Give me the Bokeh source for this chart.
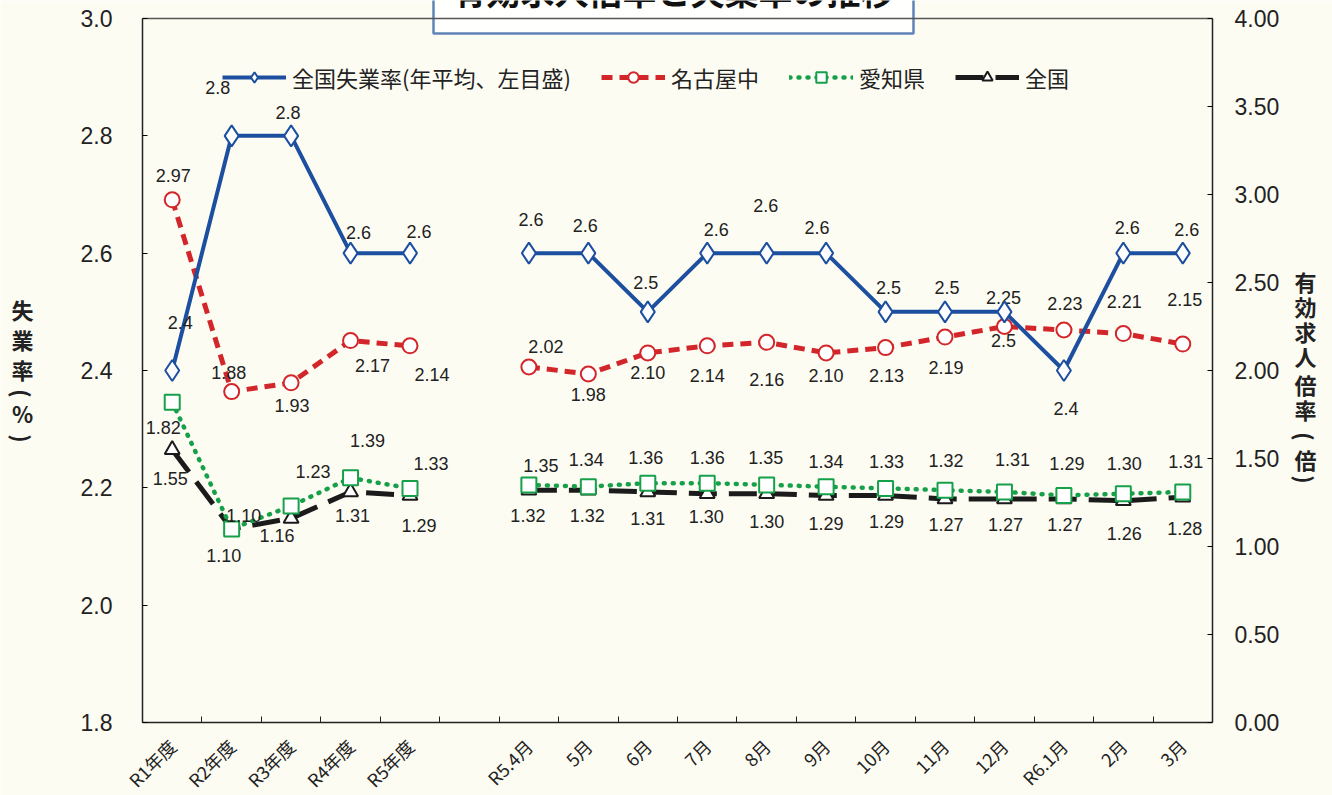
import math
from bokeh.plotting import figure
from bokeh.models import (Range1d, LinearAxis, FixedTicker, Legend,
                          LegendItem, ColumnDataSource, NumeralTickFormatter)
from bokeh.core.properties import value
from bokeh.embed import file_html
from bokeh.resources import INLINE

nan = float("nan")

# ---------------- data ----------------
categories = ["R1年度", "R2年度", "R3年度", "R4年度", "R5年度", "",
              "R5.4月", "5月", "6月", "7月", "8月", "9月", "10月", "11月",
              "12月", "R6.1月", "2月", "3月"]
unemp_national = [2.4, 2.8, 2.8, 2.6, 2.6, nan,
                  2.6, 2.6, 2.5, 2.6, 2.6, 2.6, 2.5, 2.5, 2.5, 2.4, 2.6, 2.6]
ratio_nagoya = [2.97, 1.88, 1.93, 2.17, 2.14, nan,
                2.02, 1.98, 2.10, 2.14, 2.16, 2.10, 2.13, 2.19, 2.25, 2.23, 2.21, 2.15]
ratio_aichi = [1.82, 1.10, 1.23, 1.39, 1.33, nan,
               1.35, 1.34, 1.36, 1.36, 1.35, 1.34, 1.33, 1.32, 1.31, 1.29, 1.30, 1.31]
ratio_national = [1.55, 1.10, 1.16, 1.31, 1.29, nan,
                  1.32, 1.32, 1.31, 1.30, 1.30, 1.29, 1.29, 1.27, 1.27, 1.27, 1.26, 1.28]

left_min, left_max = 1.8, 3.0
right_min, right_max = 0.0, 4.0
left_ticks = [1.8, 2.0, 2.2, 2.4, 2.6, 2.8, 3.0]
right_ticks = [0.0, 0.5, 1.0, 1.5, 2.0, 2.5, 3.0, 3.5, 4.0]

series_names = ["全国失業率(年平均、左目盛)", "名古屋中", "愛知県", "全国"]
title_text = "有効求人倍率と失業率の推移"
left_title_chars = ["失", "業", "率", "(", "%", ")"]
right_title_chars = ["有", "効", "求", "人", "倍", "率", "(", "倍", ")"]

# ---------------- layout (pixels) ----------------
W, H = 1332, 795
PX_L, PX_R, PY_T, PY_B = 142, 1212, 18, 722
left_title_px = 22
left_title_py = [308, 338, 368, 393, 412, 438]
right_title_px = 1305
right_title_py = [280, 305, 330, 355, 383, 408, 436, 458, 479]
title_px, title_py = 673, 33

# label offsets (screen px) for the value labels
off_unemp = [(8, -48), (-14, -48), (-3, -23), (8, -21), (9, -22), None,
             (2, -34), (-3, -28), (-2, -29), (9, -24), (-1, -48), (-9, -26),
             (3, -24), (2, -24), (-1, 29), (2, 38), (4, -26), (4, -24)]
off_nagoya = [(1, -24), (-3, -19), (1, 23), (22, 25), (22, 29), None,
              (17, -20), (0, 20), (0, 20), (0, 30), (0, 37), (0, 23),
              (1, 28), (1, 30), (-1, -29), (1, -27), (1, -32), (2, -45)]
off_aichi = [(-9, 25), (12, -13), (22, -35), (17, -37), (21, -25), None,
             (12, -19), (-2, -27), (-2, -26), (0, -26), (-1, -27), (0, -25),
             (1, -27), (1, -30), (8, -32), (3, -32), (1, -30), (3, -30)]
off_national = [(-2, 29), (-8, 27), (-14, 17), (2, 24), (9, 30), None,
                (-1, 25), (-1, 25), (0, 27), (-1, 23), (0, 28), (0, 28),
                (1, 26), (1, 26), (1, 26), (1, 26), (1, 33), (2, 31)]

bg = "#fdfcf3"
c_blue = "#1c4f9f"
c_red = "#d3262a"
c_green = "#17a04a"
c_black = "#1b1b1b"
c_axis = "#222222"
num_font = "Liberation Sans"
jp_font = "Noto Sans CJK JP"

n = len(categories)
xs = [i + 0.5 for i in range(n)]

# ranges chosen so that the frame fills the whole canvas
sx = (PX_R - PX_L) / n
sy = (PY_B - PY_T) / (left_max - left_min)
sr = (PY_B - PY_T) / (right_max - right_min)
x_rng = Range1d(-PX_L / sx, n + (W - PX_R) / sx)
y_rng = Range1d(left_min - (H - PY_B) / sy, left_max + PY_T / sy)
r_rng = Range1d(right_min - (H - PY_B) / sr, right_max + PY_T / sr)


def px_x(px):
    return (px - PX_L) / sx


def py_y(py):
    return left_min + (PY_B - py) / sy


p = figure(width=W, height=H, x_range=x_rng, y_range=y_rng,
           output_backend="svg", toolbar_location=None, min_border=0,
           background_fill_color=bg, border_fill_color=bg,
           outline_line_color=None)
p.grid.visible = False
p.extra_y_ranges = {"r": r_rng}

# x axis at bottom of the data area: labels at centres, ticks at boundaries
xa = p.xaxis[0]
xa.fixed_location = left_min
xa.bounds = (0, n)
xa.ticker = FixedTicker(ticks=xs, minor_ticks=list(range(1, n)))
xa.major_label_overrides = {x: c for x, c in zip(xs, categories)}
xa.major_label_orientation = math.pi / 4
xa.major_tick_line_color = None
xa.minor_tick_in = 6
xa.minor_tick_out = 0
xa.minor_tick_line_color = c_axis
xa.axis_line_color = c_axis
xa.axis_line_width = 1.5
xa.major_label_text_font = jp_font
xa.major_label_text_font_size = "18px"
xa.major_label_text_color = c_axis
xa.major_label_standoff = 14

ya = p.yaxis[0]
ya.fixed_location = 0
ya.bounds = (left_min, left_max)
ya.ticker = FixedTicker(ticks=left_ticks)
ya.formatter = NumeralTickFormatter(format="0.0")
ya.major_tick_in = 5
ya.major_tick_out = 0
ya.minor_tick_line_color = None
ya.axis_line_color = c_axis
ya.axis_line_width = 1.5
ya.major_label_text_font = num_font
ya.major_label_text_font_size = "23px"
ya.major_label_text_color = c_axis
ya.major_label_standoff = 30

ra = LinearAxis(y_range_name="r", fixed_location=n, bounds=(right_min, right_max),
                ticker=FixedTicker(ticks=right_ticks),
                formatter=NumeralTickFormatter(format="0.00"))
ra.major_tick_in = 5
ra.major_tick_out = 0
ra.minor_tick_line_color = None
ra.axis_line_color = c_axis
ra.axis_line_width = 1.5
ra.major_label_text_font = num_font
ra.major_label_text_font_size = "23px"
ra.major_label_text_color = c_axis
ra.major_label_standoff = 22
p.add_layout(ra, "right")

# top border of the plot area
ta = LinearAxis(fixed_location=left_max, bounds=(0, n), ticker=FixedTicker(ticks=[]))
ta.major_tick_line_color = None
ta.minor_tick_line_color = None
ta.major_label_text_font_size = "0px"
ta.axis_line_color = "#555555"
ta.axis_line_width = 1.5
p.add_layout(ta, "above")


def make_series(vals, offsets, fmt, rng):
    src = ColumnDataSource(dict(x=xs, y=vals))
    lx, ly, lt, dx, dy = [], [], [], [], []
    for x, v, o in zip(xs, vals, offsets):
        if v == v and o is not None:
            lx.append(x); ly.append(v); lt.append(fmt.format(v))
            dx.append(o[0]); dy.append(o[1])
    lsrc = ColumnDataSource(dict(x=lx, y=ly, t=lt, dx=dx, dy=dy))
    kw = {} if rng is None else {"y_range_name": rng}
    return src, lsrc, kw


def add_labels(lsrc, kw):
    p.text("x", "y", text="t", x_offset="dx", y_offset="dy", source=lsrc,
           text_align="center", text_baseline="middle",
           text_font=value(num_font), text_font_size="18px",
           text_color=c_axis, **kw)


# national ratio (black, long dash, triangles)
src, lsrc, kw = make_series(ratio_national, off_national, "{:.2f}", "r")
l4 = p.line("x", "y", source=src, line_color=c_black, line_width=5,
            line_dash="28 12", **kw)
m4 = p.scatter("x", "y", source=src, marker="triangle", size=15,
               fill_color="white", line_color=c_black, line_width=2, **kw)
add_labels(lsrc, kw)

# Aichi (green dotted, squares)
src, lsrc, kw = make_series(ratio_aichi, off_aichi, "{:.2f}", "r")
l3 = p.line("x", "y", source=src, line_color=c_green, line_width=4.5,
            line_dash="1 8", line_cap="round", **kw)
m3 = p.scatter("x", "y", source=src, marker="square", size=15,
               fill_color="white", line_color=c_green, line_width=2, **kw)
add_labels(lsrc, kw)

# Nagoya-naka (red dashed, circles)
src, lsrc, kw = make_series(ratio_nagoya, off_nagoya, "{:.2f}", "r")
l2 = p.line("x", "y", source=src, line_color=c_red, line_width=5,
            line_dash="11 7", **kw)
m2 = p.scatter("x", "y", source=src, marker="circle", size=15,
               fill_color="white", line_color=c_red, line_width=2, **kw)
add_labels(lsrc, kw)

# national unemployment (blue solid, diamonds, left axis)
src, lsrc, kw = make_series(unemp_national, off_unemp, "{:.1f}", None)
l1 = p.line("x", "y", source=src, line_color=c_blue, line_width=4)
m1 = p.scatter("x", "y", source=src, marker="diamond", size=21,
               fill_color="white", line_color=c_blue, line_width=2)
add_labels(lsrc, kw)


# vertical axis titles (stacked characters; brackets turned for vertical writing)
def vertical_title(chars, px, pys):
    ang = [-math.pi / 2 if c in "()" else 0.0 for c in chars]
    p.text(x=[px_x(px)] * len(chars), y=[py_y(v) for v in pys], text=chars,
           angle=ang, text_align="center", text_baseline="middle",
           text_font=value(jp_font), text_font_size="22px",
           text_font_style="bold", text_color=c_axis)


vertical_title(left_title_chars, left_title_px, left_title_py)
vertical_title(right_title_chars, right_title_px, right_title_py)

# title box (cut off at the top of the page as in the reference)
p.text(x=[px_x(title_px)], y=[py_y(title_py)], text=[title_text],
       text_align="center", text_baseline="bottom", text_font=value(jp_font),
       text_font_size="34px", text_font_style="bold", text_color="#111111",
       background_fill_color="#fffffd", border_line_color="#5f84b8",
       border_line_width=2.5, padding=19)

legend = Legend(items=[LegendItem(label=series_names[0], renderers=[l1, m1]),
                       LegendItem(label=series_names[1], renderers=[l2, m2]),
                       LegendItem(label=series_names[2], renderers=[l3, m3]),
                       LegendItem(label=series_names[3], renderers=[l4, m4])],
                orientation="horizontal", location=(222, H - 93))
legend.padding = 0
legend.margin = 0
legend.spacing = 30
legend.glyph_width = 64
legend.glyph_height = 26
legend.label_standoff = 6
legend.label_text_font = jp_font
legend.label_text_font_size = "22px"
legend.label_text_color = c_axis
legend.border_line_color = None
legend.background_fill_alpha = 0
p.add_layout(legend)

open("out.html", "w").write(file_html(p, INLINE))
